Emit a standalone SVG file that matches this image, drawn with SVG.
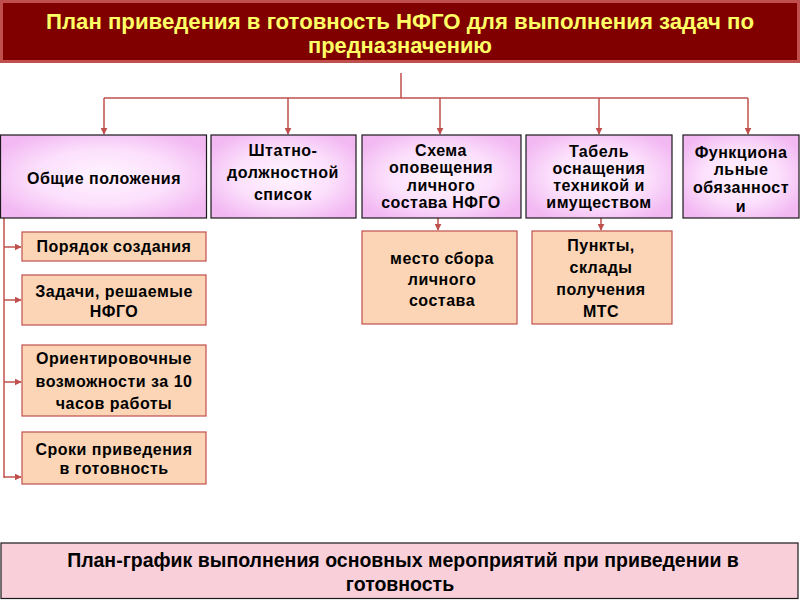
<svg xmlns="http://www.w3.org/2000/svg" width="800" height="600" viewBox="0 0 800 600">
<defs>
<radialGradient id="pink" cx="50%" cy="50%" r="60%">
<stop offset="0" stop-color="#FFF4FF"/>
<stop offset="0.55" stop-color="#FCE0FC"/>
<stop offset="1" stop-color="#F2B8F2"/>
</radialGradient>
<marker id="arr" viewBox="0 0 10 10" refX="9" refY="5" markerWidth="7" markerHeight="7" orient="auto" markerUnits="userSpaceOnUse">
<path d="M0,0 L10,5 L0,10 z" fill="#C0504D"/>
</marker>
<style>
.conn{stroke:#C0504D;stroke-width:1.5;fill:none}
.pb{fill:url(#pink);stroke:#1a1a1a;stroke-width:1.2}
.ob{fill:#FBD5B5;stroke:#C0504D;stroke-width:1.2}
.t{font-family:"Liberation Sans",Arial,sans-serif;font-weight:bold;font-size:16px;letter-spacing:0.5px;fill:#000;text-anchor:middle}
.h{font-family:"Liberation Sans",Arial,sans-serif;font-weight:bold;font-size:22px;text-anchor:middle}
.b{font-family:"Liberation Sans",Arial,sans-serif;font-weight:bold;font-size:19.5px;fill:#000;text-anchor:middle}
</style>
</defs>
<rect width="800" height="600" fill="#fff"/>
<g id="title">
<rect x="1.5" y="1.5" width="797" height="60" fill="#800000" stroke="#C0504D" stroke-width="3"/>
<text class="h" fill="#FFFF66" x="400" y="29" textLength="708" lengthAdjust="spacingAndGlyphs">План приведения в готовность НФГО для выполнения  задач по</text>
<text class="h" fill="#FFFF66" x="400" y="53" textLength="184" lengthAdjust="spacingAndGlyphs">предназначению</text>
</g>
<g id="connectors">
<path class="conn" d="M401,73 V98 M104,98 H748"/>
<path class="conn" d="M104,98 V134" marker-end="url(#arr)"/>
<path class="conn" d="M288,98 V134" marker-end="url(#arr)"/>
<path class="conn" d="M440,98 V134" marker-end="url(#arr)"/>
<path class="conn" d="M599,98 V134" marker-end="url(#arr)"/>
<path class="conn" d="M748,98 V134" marker-end="url(#arr)"/>
<path class="conn" d="M4,218 V478"/>
<path class="conn" d="M4,247 H21" marker-end="url(#arr)"/>
<path class="conn" d="M4,300 H21" marker-end="url(#arr)"/>
<path class="conn" d="M4,382 H21" marker-end="url(#arr)"/>
<path class="conn" d="M4,477 H21" marker-end="url(#arr)"/>
<path class="conn" d="M438,218 V230" marker-end="url(#arr)"/>
<path class="conn" d="M601,218 V230" marker-end="url(#arr)"/>
</g>
<g id="n1"><rect class="pb" x="0.5" y="135" width="206" height="83"/>
<text class="t" x="104" y="184">Общие положения</text></g>
<g id="n2"><rect class="pb" x="211" y="135" width="145" height="83"/>
<text class="t" x="283" y="156">Штатно-</text><text class="t" x="283" y="178">должностной</text><text class="t" x="283" y="200">список</text></g>
<g id="n3"><rect class="pb" x="362" y="135" width="159" height="83"/>
<text class="t" x="441" y="156">Схема</text><text class="t" x="441" y="173">оповещения</text><text class="t" x="441" y="191">личного</text><text class="t" x="441" y="208">состава НФГО</text></g>
<g id="n4"><rect class="pb" x="526" y="135" width="146" height="83"/>
<text class="t" x="599" y="157">Табель</text><text class="t" x="599" y="174">оснащения</text><text class="t" x="599" y="191">техникой и</text><text class="t" x="599" y="208">имуществом</text></g>
<g id="n5"><rect class="pb" x="683" y="135" width="116" height="83"/>
<text class="t" x="741" y="158">Функциона</text><text class="t" x="741" y="175">льные</text><text class="t" x="741" y="193">обязанност</text><text class="t" x="741" y="212">и</text></g>
<g id="n6"><rect class="ob" x="22" y="232" width="184" height="29"/>
<text class="t" x="114" y="252">Порядок создания</text></g>
<g id="n7"><rect class="ob" x="22" y="275" width="184" height="50"/>
<text class="t" x="114" y="297">Задачи, решаемые</text><text class="t" x="114" y="317">НФГО</text></g>
<g id="n8"><rect class="ob" x="22" y="345" width="184" height="71"/>
<text class="t" x="114" y="364">Ориентировочные</text><text class="t" x="114" y="387">возможности за 10</text><text class="t" x="114" y="409">часов работы</text></g>
<g id="n9"><rect class="ob" x="22" y="432" width="184" height="52"/>
<text class="t" x="114" y="455">Сроки приведения</text><text class="t" x="114" y="474">в готовность</text></g>
<g id="n10"><rect class="ob" x="362" y="231" width="155" height="93"/>
<text class="t" x="442" y="264">место сбора</text><text class="t" x="442" y="285">личного</text><text class="t" x="442" y="306">состава</text></g>
<g id="n11"><rect class="ob" x="532" y="231" width="140" height="93"/>
<text class="t" x="601" y="251">Пункты,</text><text class="t" x="601" y="273">склады</text><text class="t" x="601" y="295">получения</text><text class="t" x="601" y="317">МТС</text></g>
<g id="bottom"><rect x="1" y="543" width="797" height="55.5" fill="#F9D0DA" stroke="#1a1a1a" stroke-width="1.2"/>
<text class="b" x="403" y="567">План-график выполнения основных мероприятий при приведении в</text>
<text class="b" x="400" y="591">готовность</text></g>
</svg>
